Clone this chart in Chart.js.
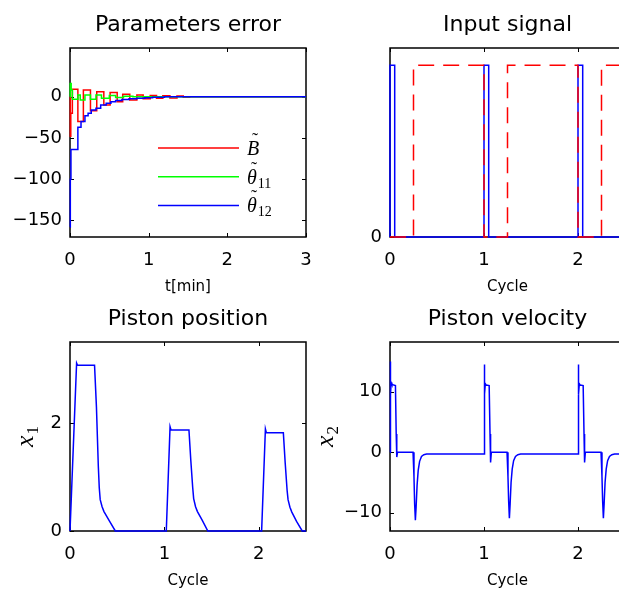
<!DOCTYPE html>
<html>
<head>
<meta charset="utf-8">
<script src="https://cdn.jsdelivr.net/npm/chart.js@4.4.1/dist/chart.umd.min.js"></script>
<style>
  html, body { margin: 0; padding: 0; background: #fff; overflow: hidden; width: 619px; height: 590px; }
  .panel { position: absolute; }
</style>
</head>
<body>
<div class="panel" style="left:0;top:0"><canvas id="errChart" width="320" height="295"></canvas></div>
<div class="panel" style="left:320px;top:0"><canvas id="inputChart" width="320" height="295"></canvas></div>
<div class="panel" style="left:0;top:294px"><canvas id="posChart" width="320" height="295"></canvas></div>
<div class="panel" style="left:320px;top:294px"><canvas id="velChart" width="320" height="295"></canvas></div>
<script>
// Parameters error, t in minutes (values hold until the next time)
const errBTime   = [0, 0.004, 0.01, 0.03, 0.1, 0.17, 0.26, 0.34, 0.43, 0.51, 0.6, 0.67, 0.76, 0.85, 0.93, 1.02, 1.1, 1.18, 1.27, 1.36, 1.44, 1.52, 3];
const errBValue  = [0, -48, -20, 9, -30, 8, -17, 6, -10, 5, -6, 3, -4, 2, -2.5, 1.5, -2, 1, -1.5, 0.8, -0.6, 0, 0];
const errT11Time  = [0, 0.003, 0.015, 0.03, 0.1, 0.13, 0.19, 0.26, 0.33, 0.4, 0.5, 0.58, 0.68, 0.8, 3];
const errT11Value = [0, 16, 8, -3, 2, -4, 2, -3, 2, -2, 1.5, -1, 0.5, 0, 0];
const errT12Time  = [0, 0.004, 0.012, 0.1, 0.14, 0.19, 0.23, 0.27, 0.33, 0.39, 0.46, 0.52, 0.58, 0.66, 0.75, 0.85, 0.95, 1.05, 1.2, 3];
const errT12Value = [-158, -100, -64, -37, -30, -23, -20, -16, -14, -10, -8, -6, -4.5, -3.5, -2.5, -1.8, -1.2, -0.6, 0, 0];
const errXTicks = [0, 1, 2, 3];
const errYTicks = [-150, -100, -50, 0];

// Input signal, in cycles
const inputTime  = [0, 0, 0.05, 1.0, 1.05, 2.0, 2.05, 2.5];
const inputValue = [0, 1, 0, 1, 0, 1, 0, 0];
const refTime  = [0, 0.25, 1.0, 1.25, 2.0, 2.25, 2.5];
const refValue = [0, 1, 0, 1, 0, 1, 1];
const cycleTicks = [0, 1, 2];
const inputYTicks = [0];

// Piston position x1
const posTime = [0, 0.01, 0.07, 0.08, 0.26, 0.28, 0.30, 0.31, 0.32, 0.34, 0.36, 0.42, 0.48,
  1.02, 1.06, 1.07, 1.26, 1.28, 1.30, 1.31, 1.33, 1.35, 1.40, 1.46,
  2.03, 2.07, 2.08, 2.26, 2.28, 2.30, 2.31, 2.33, 2.35, 2.40, 2.46, 2.5];
const posValue = [0, 0, 3.11, 3.07, 3.07, 2.3, 1.2, 0.8, 0.58, 0.45, 0.36, 0.18, 0,
  0, 1.93, 1.87, 1.87, 1.3, 0.8, 0.6, 0.45, 0.36, 0.2, 0,
  0, 1.89, 1.82, 1.82, 1.25, 0.75, 0.58, 0.44, 0.35, 0.18, 0, 0];
const posYTicks = [0, 2];

// Piston velocity x2
const velTime = [0, 0.003, 0.007, 0.012, 0.02, 0.058, 0.066, 0.072, 0.08, 0.245, 0.255, 0.262, 0.27, 0.278, 0.288, 0.3, 0.315, 0.335, 0.36, 0.39,
  1.0, 1.003, 1.008, 1.014, 1.022, 1.055, 1.064, 1.07, 1.078, 1.245, 1.255, 1.262, 1.27, 1.278, 1.288, 1.3, 1.315, 1.335, 1.36, 1.39,
  2.0, 2.003, 2.008, 2.014, 2.022, 2.055, 2.064, 2.07, 2.078, 2.245, 2.255, 2.262, 2.27, 2.278, 2.288, 2.3, 2.315, 2.335, 2.36, 2.39, 2.5];
const velValue = [0, 15, 9.5, 11.5, 11.2, 11, 3, -0.8, 0, 0, -4, -8.5, -11.2, -9, -5.5, -3, -1.5, -0.7, -0.4, -0.3,
  -0.3, 14.5, 9.6, 11.3, 11.1, 11, 3, -1.7, 0, 0, -4, -8, -10.9, -8.5, -5, -2.8, -1.4, -0.7, -0.4, -0.3,
  -0.3, 14.5, 9.6, 11.3, 11.1, 11, 3, -1.7, 0, 0, -4, -8, -10.9, -8.5, -5, -2.8, -1.4, -0.7, -0.4, -0.3, -0.3];
const velYTicks = [-10, 0, 10];

const legendSymbols = ['B', '\u03b8', '\u03b8'];
const legendSubs = ['', '11', '12'];

function pts(xs, ys) {
  return xs.map((x, i) => ({ x: x, y: ys[i] }));
}

function minusLabel(v) {
  return v < 0 ? '\u2212' + Math.abs(v) : String(v);
}

// MATLAB-like box: frame, inward ticks, title, axis labels, legend
const matlabAxes = {
  id: 'matlabAxes',
  beforeDatasetsDraw(chart, args, opts) {
    const ctx = chart.ctx;
    const a = chart.chartArea;
    const sx = chart.scales.x, sy = chart.scales.y;
    ctx.save();
    ctx.strokeStyle = '#000';
    ctx.lineWidth = 1;
    ctx.beginPath();
    sx.ticks.forEach(t => {
      const px = Math.round(sx.getPixelForValue(t.value)) + 0.5;
      ctx.moveTo(px, a.bottom); ctx.lineTo(px, a.bottom - 4);
      ctx.moveTo(px, a.top); ctx.lineTo(px, a.top + 4);
    });
    sy.ticks.forEach(t => {
      const py = Math.round(sy.getPixelForValue(t.value)) + 0.5;
      ctx.moveTo(a.left, py); ctx.lineTo(a.left + 4, py);
      ctx.moveTo(a.right, py); ctx.lineTo(a.right - 4, py);
    });
    ctx.stroke();
    ctx.lineWidth = 1.5;
    ctx.strokeRect(a.left, a.top, a.right - a.left, a.bottom - a.top);
    ctx.restore();
  },
  afterDraw(chart, args, opts) {
    const ctx = chart.ctx;
    const a = chart.chartArea;
    const cx = (a.left + a.right) / 2;
    ctx.save();
    ctx.fillStyle = '#000';
    ctx.textAlign = 'center';
    ctx.textBaseline = 'alphabetic';
    ctx.font = '22px "DejaVu Sans"';
    ctx.fillText(opts.title, cx, a.top - 17);
    ctx.font = '15px "DejaVu Sans"';
    ctx.fillText(opts.xlabel, cx, a.bottom + 54);

    if (opts.ylabel) {
      const cy = (a.top + a.bottom) / 2;
      ctx.save();
      ctx.translate(a.left - opts.ylabelGap, cy);
      ctx.rotate(-Math.PI / 2);
      ctx.font = 'italic 26px "Liberation Serif"';
      const w1 = ctx.measureText(opts.ylabel).width;
      ctx.font = '17px "Liberation Serif"';
      const w2 = ctx.measureText(opts.ylabelSub).width;
      const x0 = -(w1 + w2 + 1) / 2;
      ctx.textAlign = 'left';
      ctx.font = 'italic 26px "Liberation Serif"';
      ctx.fillText(opts.ylabel, x0, 0);
      ctx.font = '17px "Liberation Serif"';
      ctx.fillText(opts.ylabelSub, x0 + w1 + 1, 5);
      ctx.restore();
    }

    if (opts.legend) {
      const ds = chart.data.datasets;
      for (let i = 0; i < ds.length; i++) {
        const y = a.top + 100 + i * 28.7;
        ctx.strokeStyle = ds[i].borderColor;
        ctx.lineWidth = 1.5;
        ctx.beginPath();
        ctx.moveTo(a.left + 88, y);
        ctx.lineTo(a.left + 169, y);
        ctx.stroke();
        const x0 = a.left + 177;
        ctx.textAlign = 'left';
        ctx.font = 'italic 20px "Liberation Serif"';
        ctx.fillText(legendSymbols[i], x0, y + 7);
        const w = ctx.measureText(legendSymbols[i]).width;
        // tilde accent over the symbol
        ctx.textAlign = 'center';
        ctx.font = '18px "Liberation Serif"';
        ctx.fillText('\u02dc', x0 + w / 2 + 2, y - 2);
        ctx.textAlign = 'left';
        ctx.font = '14px "Liberation Serif"';
        ctx.fillText(legendSubs[i], x0 + w + 1, y + 11);
      }
    }
    ctx.restore();
  }
};

function axisOptions(xmin, xmax, xticks, ymin, ymax, yticks, rightPad) {
  return {
    responsive: false,
    animation: false,
    devicePixelRatio: 1,
    layout: { padding: { left: 0, top: 48, right: rightPad, bottom: 0 } },
    plugins: { legend: { display: false }, tooltip: { enabled: false } },
    elements: { point: { radius: 0 }, line: { tension: 0 } },
    scales: {
      x: {
        type: 'linear', min: xmin, max: xmax,
        grid: { display: false, drawTicks: false },
        border: { display: false },
        afterBuildTicks: s => { s.ticks = xticks.map(v => ({ value: v })); },
        afterFit: s => { s.height = 58; },
        // tall line height pushes labels down without extra side padding
        ticks: { font: { family: 'DejaVu Sans', size: 18, lineHeight: 2.6 }, color: '#000', padding: 0, autoSkip: false, maxRotation: 0, callback: minusLabel }
      },
      y: {
        type: 'linear', min: ymin, max: ymax,
        grid: { display: false, drawTicks: false },
        border: { display: false },
        afterBuildTicks: s => { s.ticks = yticks.map(v => ({ value: v })); },
        afterFit: s => { s.width = 70; },
        ticks: { font: { family: 'DejaVu Sans', size: 18 }, color: '#000', padding: 8, autoSkip: false, callback: minusLabel }
      }
    }
  };
}

// Parameters error
const errOpts = axisOptions(0, 3, errXTicks, -170, 59, errYTicks, 14);
errOpts.plugins.matlabAxes = { title: 'Parameters error', xlabel: 't[min]', legend: true };
new Chart(document.getElementById('errChart'), {
  type: 'line',
  data: {
    datasets: [
      { label: 'B', data: pts(errBTime, errBValue), borderColor: '#ff0000', borderWidth: 1.5, stepped: true, order: 3, clip: false },
      { label: 'theta11', data: pts(errT11Time, errT11Value), borderColor: '#00ff00', borderWidth: 1.5, stepped: true, order: 2, clip: false },
      { label: 'theta12', data: pts(errT12Time, errT12Value), borderColor: '#0000ff', borderWidth: 1.5, stepped: true, order: 1, clip: false }
    ]
  },
  options: errOpts,
  plugins: [matlabAxes]
});

// Input signal
const inOpts = axisOptions(0, 2.5, cycleTicks, 0, 1.1, inputYTicks, 15);
inOpts.plugins.matlabAxes = { title: 'Input signal', xlabel: 'Cycle' };
new Chart(document.getElementById('inputChart'), {
  type: 'line',
  data: {
    datasets: [
      { label: 'input', data: pts(inputTime, inputValue), borderColor: '#0000ff', borderWidth: 1.5, stepped: true, order: 2, clip: false },
      { label: 'reference', data: pts(refTime, refValue), borderColor: '#ff0000', borderWidth: 1.5, borderDash: [16, 9], stepped: true, order: 1, clip: false }
    ]
  },
  options: inOpts,
  plugins: [matlabAxes]
});

// Piston position
const posOpts = axisOptions(0, 2.5, cycleTicks, 0, 3.5, posYTicks, 14);
posOpts.plugins.matlabAxes = { title: 'Piston position', xlabel: 'Cycle', ylabel: 'x', ylabelSub: '1', ylabelGap: 37 };
new Chart(document.getElementById('posChart'), {
  type: 'line',
  data: { datasets: [
    { label: 'x1', data: pts(posTime, posValue), borderColor: '#0000ff', borderWidth: 1.5, clip: false }
  ] },
  options: posOpts,
  plugins: [matlabAxes]
});

// Piston velocity
const velOpts = axisOptions(0, 2.5, cycleTicks, -13, 18.2, velYTicks, 15);
velOpts.plugins.matlabAxes = { title: 'Piston velocity', xlabel: 'Cycle', ylabel: 'x', ylabelSub: '2', ylabelGap: 57 };
new Chart(document.getElementById('velChart'), {
  type: 'line',
  data: { datasets: [
    { label: 'x2', data: pts(velTime, velValue), borderColor: '#0000ff', borderWidth: 1.5, clip: false }
  ] },
  options: velOpts,
  plugins: [matlabAxes]
});
</script>
</body>
</html>
